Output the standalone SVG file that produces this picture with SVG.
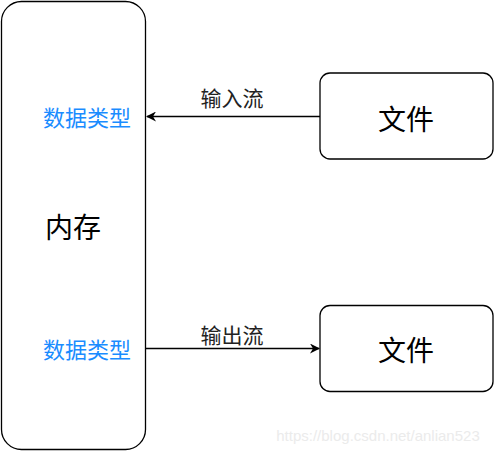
<svg xmlns="http://www.w3.org/2000/svg" width="496" height="453" viewBox="0 0 496 453">
<style>
.box{fill:#fff;stroke:#000;stroke-width:1.3}
.t{font-family:"Noto Sans CJK SC","Noto Sans",sans-serif;text-anchor:middle}
.big{font-size:28px;fill:#000}
.blue{font-size:22px;fill:#1a8cff}
.lbl{font-size:21px;fill:#222}
.con{stroke:#000;stroke-width:1.3;fill:none}
</style>
<defs>
<marker id="ah" viewBox="0 0 10 10" refX="9" refY="5" markerWidth="10" markerHeight="10" markerUnits="userSpaceOnUse" orient="auto">
<path d="M0,0 L10,5 L0,10 L3,5 Z" fill="#000"/>
</marker>
</defs>
<rect width="496" height="453" fill="#fff"/>
<g id="memory">
<rect class="box" x="1.5" y="1.5" width="144" height="448" rx="20"/>
<text class="t blue" x="87" y="126">数据类型</text>
<text class="t big" x="73" y="238">内存</text>
<text class="t blue" x="87" y="358">数据类型</text>
</g>
<g id="file1">
<rect class="box" x="320" y="73" width="173" height="86" rx="10"/>
<text class="t big" x="406" y="130">文件</text>
</g>
<g id="file2">
<rect class="box" x="320" y="305.5" width="173" height="86" rx="10"/>
<text class="t big" x="406" y="361">文件</text>
</g>
<g id="connectors">
<line class="con" x1="320" y1="116.5" x2="147" y2="116.5" marker-end="url(#ah)"/>
<text class="t lbl" x="232" y="106">输入流</text>
<line class="con" x1="146" y1="348.5" x2="319" y2="348.5" marker-end="url(#ah)"/>
<text class="t lbl" x="232" y="343">输出流</text>
</g>
<text x="378" y="441" font-family="Liberation Sans,sans-serif" font-size="15" fill="#ebebeb" text-anchor="middle">https://blog.csdn.net/anlian523</text>
</svg>
